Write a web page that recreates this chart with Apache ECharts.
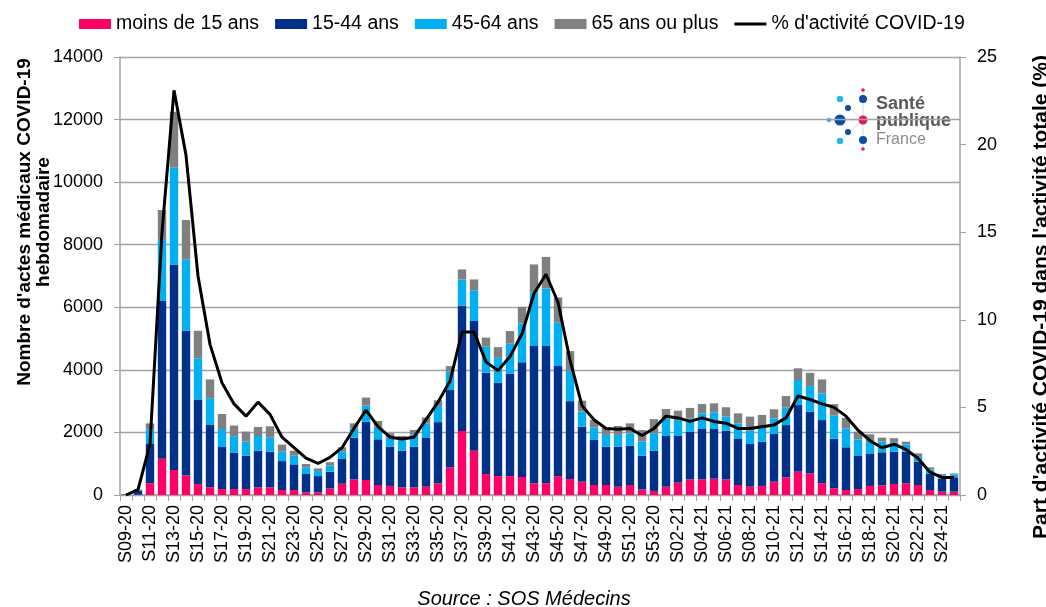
<!DOCTYPE html>
<html>
<head>
<meta charset="utf-8">
<title>SOS Médecins COVID-19</title>
<script src="https://cdn.jsdelivr.net/npm/echarts@6/dist/echarts.min.js"></script>
<style>
  html, body { margin: 0; padding: 0; background: #fff; }
  #chart { width: 1046px; height: 607px; }
</style>
</head>
<body>
<div id="chart"></div>
<script>
// semaines S09-20 .. S53-20 puis S01-21 .. S25-21
var weeks = [];
for (var w = 9; w <= 53; w++) weeks.push('S' + (w < 10 ? '0' + w : w) + '-20');
for (var w2 = 1; w2 <= 25; w2++) weeks.push('S' + (w2 < 10 ? '0' + w2 : w2) + '-21');

var moins15 = [0, 10, 375, 1160, 800, 620, 350, 245, 190, 190, 190, 245, 245, 160, 160, 85, 85, 210, 360, 500,
  480, 320, 290, 245, 245, 265, 370, 885, 2045, 1415, 670, 605, 605, 575, 375, 375, 605, 510, 425, 320,
  320, 265, 320, 180, 130, 265, 395, 500, 500, 520, 500, 320, 265, 290, 425, 565, 745, 690, 375, 215,
  160, 190, 290, 310, 350, 375, 320, 160, 105, 105];
var de15a44 = [20, 120, 1255, 5040, 6570, 4640, 2700, 2010, 1345, 1170, 1065, 1170, 1140, 925, 820, 585, 520, 535, 790, 1330,
  1860, 1460, 1255, 1170, 1300, 1575, 1960, 2470, 4005, 4145, 3240, 2980, 3280, 3665, 4385, 4385, 3515, 2490, 1760, 1440,
  1225, 1280, 1255, 1075, 1290, 1620, 1490, 1520, 1610, 1590, 1555, 1490, 1365, 1415, 1525, 1670, 2130, 1970, 2020, 1585,
  1365, 1075, 1040, 1055, 1035, 1010, 745, 510, 415, 460];
var de45a64 = [5, 35, 470, 1980, 3090, 2260, 1320, 840, 575, 520, 450, 470, 460, 300, 275, 215, 160, 200, 245, 300,
  520, 405, 300, 340, 395, 450, 510, 585, 840, 970, 830, 800, 950, 1245, 1715, 1840, 1385, 960, 480, 395,
  375, 375, 395, 450, 555, 565, 510, 425, 500, 530, 450, 480, 425, 480, 500, 555, 800, 820, 850, 735,
  605, 510, 395, 340, 300, 235, 180, 150, 105, 95];
var plus65 = [0, 10, 190, 930, 1790, 1270, 880, 600, 480, 340, 320, 290, 350, 225, 160, 105, 85, 105, 130, 160,
  255, 180, 130, 130, 140, 190, 190, 180, 320, 360, 290, 340, 405, 530, 895, 1010, 810, 640, 350, 245,
  235, 285, 320, 370, 450, 300, 300, 340, 300, 290, 300, 320, 450, 375, 290, 375, 375, 425, 450, 370,
  340, 245, 215, 130, 130, 85, 85, 65, 45, 30];
var pctActivite = [0, 0.3, 2.9, 15, 23.1, 19.4, 12.5, 8.6, 6.4, 5.2, 4.5, 5.3, 4.6, 3.3, 2.7, 2.1, 1.8, 2.15, 2.7, 3.8,
  4.85, 3.9, 3.3, 3.2, 3.3, 4.3, 5.3, 6.5, 9.3, 9.3, 7.6, 7.1, 7.9, 9.2, 11.5, 12.6, 11.0, 7.7, 5.1, 4.3,
  3.8, 3.75, 3.8, 3.4, 3.8, 4.5, 4.4, 4.2, 4.4, 4.2, 4.1, 3.8, 3.8, 3.9, 4.0, 4.4, 5.65, 5.45, 5.2, 5.0,
  4.5, 3.7, 3.1, 2.7, 2.9, 2.6, 2.1, 1.3, 1.0, 1.0];

var font = 'Liberation Sans, Arial, sans-serif';
var gris = '#a3a3a3';

var myChart = echarts.init(document.getElementById('chart'));

function barre(nom, data, couleur) {
  return {
    name: nom,
    type: 'bar',
    stack: 'total',
    barCategoryGap: '30%',
    itemStyle: { color: couleur },
    data: data
  };
}

var option = {
  animation: false,
  textStyle: { fontFamily: font },
  legend: {
    left: 79,
    top: 14,
    padding: 0,
    itemWidth: 32,
    itemHeight: 10,
    itemGap: 16,
    textStyle: { fontSize: 19.5, color: '#000', fontFamily: font },
    data: [
      { name: 'moins de 15 ans', icon: 'rect' },
      { name: '15-44 ans', icon: 'rect' },
      { name: '45-64 ans', icon: 'rect' },
      { name: '65 ans ou plus', icon: 'rect' },
      { name: "% d'activité COVID-19", icon: 'path://M0,0h32v3h-32z' }
    ]
  },
  grid: { left: 120, right: 86, top: 57, bottom: 112 },
  xAxis: {
    type: 'category',
    data: weeks,
    boundaryGap: true,
    axisLine: { lineStyle: { color: gris, width: 1.5 } },
    axisTick: { show: true, interval: 0, length: 6, lineStyle: { color: gris } },
    axisLabel: { interval: 1, rotate: 90, fontSize: 18, color: '#000', margin: 10, fontFamily: font }
  },
  yAxis: [
    {
      type: 'value',
      min: 0,
      max: 14000,
      interval: 2000,
      axisLine: { show: true, lineStyle: { color: gris, width: 1.5 } },
      axisTick: { show: true, length: 6, lineStyle: { color: gris } },
      axisLabel: {
        fontSize: 18, color: '#000', margin: 17, fontFamily: font,
        formatter: function (v) { return String(v); }
      },
      splitLine: { show: true, lineStyle: { color: gris, width: 1.3 } }
    },
    {
      type: 'value',
      min: 0,
      max: 25,
      interval: 5,
      axisLine: { show: true, lineStyle: { color: gris, width: 1.5 } },
      axisTick: { show: true, length: 6, lineStyle: { color: gris } },
      axisLabel: { fontSize: 18, color: '#000', margin: 17, fontFamily: font },
      splitLine: { show: false }
    }
  ],
  series: [
    barre('moins de 15 ans', moins15, '#FF0066'),
    barre('15-44 ans', de15a44, '#003087'),
    barre('45-64 ans', de45a64, '#00B0F0'),
    barre('65 ans ou plus', plus65, '#808080'),
    {
      name: "% d'activité COVID-19",
      type: 'line',
      yAxisIndex: 1,
      symbol: 'none',
      z: 5,
      lineStyle: { color: '#000', width: 3 },
      itemStyle: { color: '#000' },
      data: pctActivite
    }
  ],
  graphic: [
    {
      type: 'text',
      x: 34.5,
      y: 222,
      rotation: Math.PI / 2,
      style: {
        text: "Nombre d'actes médicaux COVID-19\nhebdomadaire",
        font: 'bold 19px ' + font,
        lineHeight: 19,
        fill: '#000',
        textAlign: 'center',
        textVerticalAlign: 'middle'
      }
    },
    {
      type: 'text',
      x: 1041,
      y: 297,
      rotation: Math.PI / 2,
      style: {
        text: "Part d'activité COVID-19 dans l'activité totale (%)",
        font: 'bold 21px ' + font,
        fill: '#000',
        textAlign: 'center',
        textVerticalAlign: 'middle'
      }
    },
    {
      type: 'text',
      x: 524,
      y: 599,
      style: {
        text: 'Source : SOS Médecins',
        font: 'italic 20px ' + font,
        fill: '#000',
        textAlign: 'center',
        textVerticalAlign: 'middle'
      }
    },
    // logo Santé publique France
    {
      type: 'group',
      children: [
        { type: 'line', shape: { x1: 863, y1: 90, x2: 863, y2: 149 }, style: { stroke: '#d8d8d8', lineWidth: 1 } },
        { type: 'line', shape: { x1: 829, y1: 120, x2: 863, y2: 120 }, style: { stroke: '#d8d8d8', lineWidth: 1 } },
        { type: 'line', shape: { x1: 840, y1: 99, x2: 863, y2: 120 }, style: { stroke: '#d8d8d8', lineWidth: 1 } },
        { type: 'line', shape: { x1: 840, y1: 141, x2: 863, y2: 120 }, style: { stroke: '#d8d8d8', lineWidth: 1 } },
        { type: 'circle', shape: { cx: 840, cy: 120, r: 5.5 }, style: { fill: '#0b4ea2' } },
        { type: 'circle', shape: { cx: 863, cy: 120, r: 4.5 }, style: { fill: '#e8175d' } },
        { type: 'circle', shape: { cx: 863, cy: 99, r: 4 }, style: { fill: '#0b4ea2' } },
        { type: 'circle', shape: { cx: 863, cy: 140, r: 4 }, style: { fill: '#0b4ea2' } },
        { type: 'circle', shape: { cx: 848, cy: 108, r: 3 }, style: { fill: '#0b4ea2' } },
        { type: 'circle', shape: { cx: 848, cy: 132, r: 3 }, style: { fill: '#0b4ea2' } },
        { type: 'circle', shape: { cx: 840, cy: 99, r: 3.2 }, style: { fill: '#2bb5ea' } },
        { type: 'circle', shape: { cx: 840, cy: 141, r: 3.2 }, style: { fill: '#2bb5ea' } },
        { type: 'circle', shape: { cx: 829, cy: 120, r: 2.3 }, style: { fill: '#2bb5ea' } },
        { type: 'circle', shape: { cx: 863, cy: 90, r: 1.8 }, style: { fill: '#e8175d' } },
        { type: 'circle', shape: { cx: 863, cy: 149, r: 1.8 }, style: { fill: '#e8175d' } },
        { type: 'text', x: 876, y: 104, style: { text: 'Santé', font: 'bold 18px ' + font, fill: '#5a5a5a', textVerticalAlign: 'middle' } },
        { type: 'text', x: 876, y: 121, style: { text: 'publique', font: 'bold 18px ' + font, fill: '#5a5a5a', textVerticalAlign: 'middle' } },
        { type: 'text', x: 876, y: 139.5, style: { text: 'France', font: '16px ' + font, fill: '#8a8a8a', textVerticalAlign: 'middle' } }
      ]
    }
  ]
};

myChart.setOption(option);
</script>
</body>
</html>
